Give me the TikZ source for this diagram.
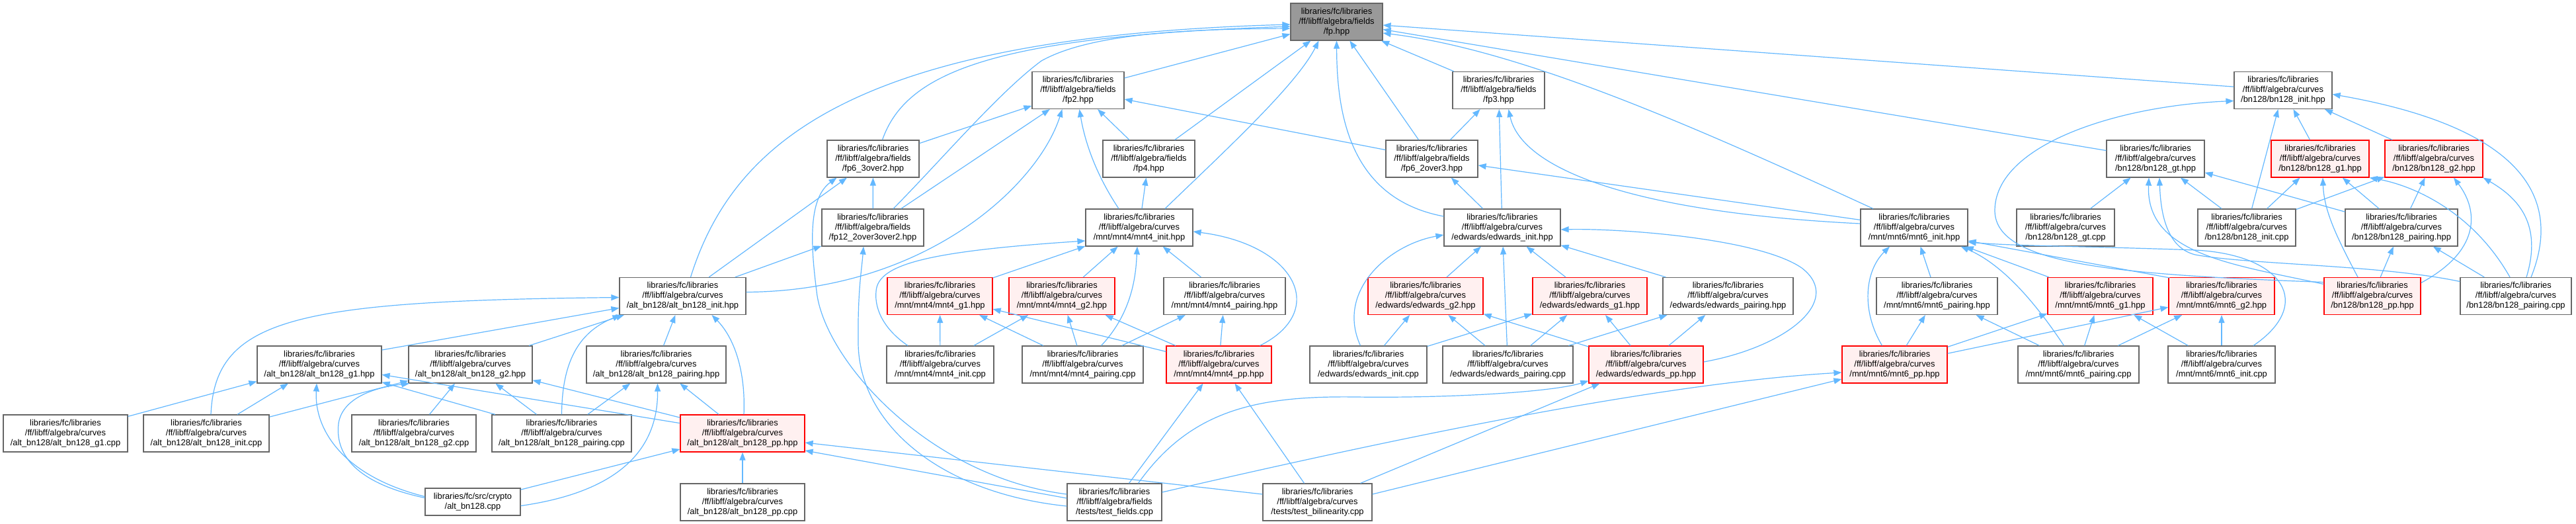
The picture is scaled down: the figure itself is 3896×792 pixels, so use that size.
\documentclass[tikz,border=0pt]{standalone}
\usepackage{fontspec}
\setmainfont{Liberation Sans}
\usetikzlibrary{arrows.meta,calc}
\definecolor{edgec}{HTML}{63B8FF}
\definecolor{nbord}{HTML}{666666}
\definecolor{rootf}{HTML}{999999}
\definecolor{redf}{HTML}{FFF0F0}
\newcommand{\lbF}{libraries/fc/libraries\\/ff/libff/algebra/fields\\}
\newcommand{\lbC}{libraries/fc/libraries\\/ff/libff/algebra/curves\\}
\begin{document}
\begin{tikzpicture}[x=1pt,y=-1pt,
 nbox/.style={draw=nbord,line width=1.2pt,fill=white,inner sep=0pt,minimum height=56pt,align=center,font=\fontsize{12.9pt}{15pt}\selectfont},
 rbox/.style={nbox,draw=red,fill=redf},
 rootbox/.style={nbox,fill=rootf},
 edg/.style={draw=edgec,line width=1.2pt,-{Triangle[length=12pt,width=9pt]}}]
\fill[white] (0,0) rectangle (3896,792);
\useasboundingbox (0,0) rectangle (3896,792);
% row 0
\node[rootbox,minimum width=139pt] (fp) at (2021.5,33) {\lbF/fp.hpp};
% row 1
\node[nbox,minimum width=139pt] (fp2) at (1630.5,136.5) {\lbF/fp2.hpp};
\node[nbox,minimum width=139pt] (fp3) at (2266.5,136.5) {\lbF/fp3.hpp};
\node[nbox,minimum width=148pt] (bninit) at (3453,136.5) {\lbC/bn128/bn128\_init.hpp};
% row 2
\node[nbox,minimum width=139pt] (fp6a) at (1320.5,240) {\lbF/fp6\_3over2.hpp};
\node[nbox,minimum width=139pt] (fp4) at (1737.5,240) {\lbF/fp4.hpp};
\node[nbox,minimum width=139pt] (fp6b) at (2165.5,240) {\lbF/fp6\_2over3.hpp};
\node[nbox,minimum width=148pt] (bngt) at (3260,240) {\lbC/bn128/bn128\_gt.hpp};
\node[rbox,minimum width=148pt] (bng1) at (3509,240) {\lbC/bn128/bn128\_g1.hpp};
\node[rbox,minimum width=148pt] (bng2) at (3681,240) {\lbC/bn128/bn128\_g2.hpp};
% row 3
\node[nbox,minimum width=154pt] (fp12) at (1320,344) {\lbF/fp12\_2over3over2.hpp};
\node[nbox,minimum width=162pt] (m4init) at (1723,344) {\lbC/mnt/mnt4/mnt4\_init.hpp};
\node[nbox,minimum width=176pt] (edinit) at (2272,344) {\lbC/edwards/edwards\_init.hpp};
\node[nbox,minimum width=162pt] (m6init) at (2895,344) {\lbC/mnt/mnt6/mnt6\_init.hpp};
\node[nbox,minimum width=148pt] (bngtcpp) at (3124,344) {\lbC/bn128/bn128\_gt.cpp};
\node[nbox,minimum width=148pt] (bninitcpp) at (3398,344) {\lbC/bn128/bn128\_init.cpp};
\node[nbox,minimum width=170pt] (bnpairh) at (3632,344) {\lbC/bn128/bn128\_pairing.hpp};
% row 4
\node[nbox,minimum width=191pt] (abinit) at (1032.5,447.5) {\lbC/alt\_bn128/alt\_bn128\_init.hpp};
\node[rbox,minimum width=159pt] (m4g1) at (1421.5,447.5) {\lbC/mnt/mnt4/mnt4\_g1.hpp};
\node[rbox,minimum width=160pt] (m4g2) at (1606,447.5) {\lbC/mnt/mnt4/mnt4\_g2.hpp};
\node[nbox,minimum width=184pt] (m4pairh) at (1852,447.5) {\lbC/mnt/mnt4/mnt4\_pairing.hpp};
\node[rbox,minimum width=174pt] (edg2) at (2156,447.5) {\lbC/edwards/edwards\_g2.hpp};
\node[rbox,minimum width=173pt] (edg1) at (2404.5,447.5) {\lbC/edwards/edwards\_g1.hpp};
\node[nbox,minimum width=197pt] (edpairh) at (2613.5,447.5) {\lbC/edwards/edwards\_pairing.hpp};
\node[nbox,minimum width=183pt] (m6pairh) at (2929.5,447.5) {\lbC/mnt/mnt6/mnt6\_pairing.hpp};
\node[rbox,minimum width=159pt] (m6g1) at (3176.5,447.5) {\lbC/mnt/mnt6/mnt6\_g1.hpp};
\node[rbox,minimum width=160pt] (m6g2) at (3360,447.5) {\lbC/mnt/mnt6/mnt6\_g2.hpp};
\node[rbox,minimum width=146pt] (bnpp) at (3588,447.5) {\lbC/bn128/bn128\_pp.hpp};
\node[nbox,minimum width=168pt] (bnpaircpp) at (3805,447.5) {\lbC/bn128/bn128\_pairing.cpp};
% row 5
\node[nbox,minimum width=188pt] (abg1) at (483,551) {\lbC/alt\_bn128/alt\_bn128\_g1.hpp};
\node[nbox,minimum width=187pt] (abg2) at (711.5,551) {\lbC/alt\_bn128/alt\_bn128\_g2.hpp};
\node[nbox,minimum width=211pt] (abpairh) at (992.5,551) {\lbC/alt\_bn128/alt\_bn128\_pairing.hpp};
\node[nbox,minimum width=162pt] (m4initcpp) at (1422,551) {\lbC/mnt/mnt4/mnt4\_init.cpp};
\node[nbox,minimum width=183pt] (m4paircpp) at (1637.5,551) {\lbC/mnt/mnt4/mnt4\_pairing.cpp};
\node[rbox,minimum width=159pt] (m4pp) at (1843.5,551) {\lbC/mnt/mnt4/mnt4\_pp.hpp};
\node[nbox,minimum width=177pt] (edinitcpp) at (2069.5,551) {\lbC/edwards/edwards\_init.cpp};
\node[nbox,minimum width=197pt] (edpaircpp) at (2280.5,551) {\lbC/edwards/edwards\_pairing.cpp};
\node[rbox,minimum width=173pt] (edpp) at (2489.5,551) {\lbC/edwards/edwards\_pp.hpp};
\node[rbox,minimum width=159pt] (m6pp) at (2865.5,551) {\lbC/mnt/mnt6/mnt6\_pp.hpp};
\node[nbox,minimum width=183pt] (m6paircpp) at (3143.5,551) {\lbC/mnt/mnt6/mnt6\_pairing.cpp};
\node[nbox,minimum width=162pt] (m6initcpp) at (3360,551) {\lbC/mnt/mnt6/mnt6\_init.cpp};
% row 6
\node[nbox,minimum width=188pt] (abg1cpp) at (99,655) {\lbC/alt\_bn128/alt\_bn128\_g1.cpp};
\node[nbox,minimum width=190pt] (abinitcpp) at (312,655) {\lbC/alt\_bn128/alt\_bn128\_init.cpp};
\node[nbox,minimum width=188pt] (abg2cpp) at (626,655) {\lbC/alt\_bn128/alt\_bn128\_g2.cpp};
\node[nbox,minimum width=211pt] (abpaircpp) at (849.5,655) {\lbC/alt\_bn128/alt\_bn128\_pairing.cpp};
\node[rbox,minimum width=188pt] (abpp) at (1123,655) {\lbC/alt\_bn128/alt\_bn128\_pp.hpp};
% row 7
\node[nbox,minimum width=188pt] (abppcpp) at (1123,759) {\lbC/alt\_bn128/alt\_bn128\_pp.cpp};
\node[nbox,minimum width=143pt] (testfields) at (1685.5,759) {\lbF/tests/test\_fields.cpp};
\node[nbox,minimum width=165pt] (testbil) at (1992.5,759) {\lbC/tests/test\_bilinearity.cpp};
\node[nbox,minimum width=144pt,minimum height=41pt] (crypto) at (715,758.5) {libraries/fc/src/crypto\\/alt\_bn128.cpp};

% ---- edges into fp.hpp
\draw[edg] (fp2) -- (fp);
\draw[edg] (fp3) -- (fp);
\draw[edg] (bninit) -- (fp);
\draw[edg] (fp4) -- (fp);
\draw[edg] (fp6b) -- (fp);
\draw[edg] (bngt) -- (fp);
\draw[edg] ($(m4init.north)+(39,0)$) .. controls (1845,235) and (1960,130) .. ($(fp.south)+(-27,0)$);
\draw[edg] ($(m6init.north)+(-62,0)$) .. controls (2560,190) and (2300,75) .. ($(fp.east)+(0,17)$);
\draw[edg] ($(abinit.north)+(12,0)$) .. controls (1110,210) and (1300,55) .. ($(fp.west)+(0,4)$);
\draw[edg] ($(fp6a.north)+(14,0)$) .. controls (1370,110) and (1500,55) .. ($(fp.west)+(0,7)$);
\draw[edg] ($(fp12.north)+(31,0)$) .. controls (1420,246) and (1510,140) .. (1575,92) .. controls (1650,50) and (1800,44) .. ($(fp.west)+(0,10)$);
\draw[edg] ($(edinit.west)+(0,-17)$) .. controls (2040,300) and (2022,170) .. (fp.south);
% ---- fp2
\draw[edg] (fp6a) -- (fp2);
\draw[edg] (fp12) -- (fp2);
\draw[edg] (fp4) -- (fp2);
\draw[edg] ($(m4init.north)+(-31,0)$) .. controls (1655,260) and (1640,210) .. ($(fp2.south)+(2,0)$);
\draw[edg] (fp6b) -- (fp2);
\draw[edg] ($(abinit.east)+(0,-6)$) .. controls (1400,440) and (1570,280) .. ($(fp2.south)+(-24,0)$);
% ---- fp3, fp4, fp6a, fp6b, fp12
\draw[edg] (fp6b) -- (fp3);
\draw[edg] (edinit) -- (fp3);
\draw[edg] ($(m6init.west)+(0,-6)$) .. controls (2450,320) and (2300,250) .. ($(fp3.south)+(15,0)$);
\draw[edg] (m4init) -- (fp4);
\draw[edg] (fp12) -- (fp6a);
\draw[edg] (abinit) -- (fp6a);
\draw[edg] ($(testfields.west)+(0,-12)$) .. controls (1400,720) and (1245,540) .. (1235,440) .. controls (1226,370) and (1222,300) .. ($(fp6a.south)+(-55,0)$);
\draw[edg] (edinit) -- (fp6b);
\draw[edg] (m6init) -- (fp6b);
\draw[edg] (abinit) -- (fp12);
\draw[edg] ($(testfields.west)+(0,6)$) .. controls (1420,745) and (1300,640) .. (1298,520) .. controls (1297,440) and (1303,410) .. ($(fp12.south)+(-14,0)$);
% ---- alt_bn128
\draw[edg] ($(abg1.east)+(0,-22)$) -- ($(abinit.west)+(0,18)$);
\draw[edg] (abg2) -- (abinit);
\draw[edg] (abpairh) -- (abinit);
\draw[edg] ($(abinitcpp.north)+(7,0)$) .. controls (325,480) and (450,455) .. ($(abinit.west)+(0,2)$);
\draw[edg] (abpaircpp.north) .. controls (850,540) and (880,500) .. ($(abinit.south west)+(2,0)$);
\draw[edg] ($(abpp.north)+(2,0)$) .. controls (1128,560) and (1110,510) .. ($(abinit.south)+(44,0)$);
\draw[edg] (abg1cpp) -- (abg1);
\draw[edg] (abinitcpp) -- (abg1);
\draw[edg] (abpaircpp) -- (abg1);
\draw[edg] (abpp) -- (abg1);
\draw[edg] ($(crypto.west)+(0,-8)$) .. controls (520,720) and (475,650) .. ($(abg1.south)+(-4,0)$);
\draw[edg] (abg2cpp) -- (abg2);
\draw[edg] (abinitcpp) -- (abg2);
\draw[edg] (abpaircpp) -- (abg2);
\draw[edg] (abpp) -- (abg2);
\draw[edg] ($(crypto.west)+(0,-6)$) .. controls (560,735) and (505,700) .. (512,640) .. controls (518,600) and (570,585) .. ($(abg2.south west)+(2,0)$);
\draw[edg] (abpaircpp) -- (abpairh);
\draw[edg] (abpp) -- (abpairh);
\draw[edg] ($(crypto.east)+(0,6)$) .. controls (960,740) and (995,660) .. ($(abpairh.south)+(2,0)$);
\draw[edg] (abppcpp) -- (abpp);
\draw[edg] (crypto) -- (abpp);
\draw[edg] ($(testfields.west)+(0,-6)$) -- ($(abpp.east)+(0,26)$);
\draw[edg] ($(testbil.west)+(0,-12)$) -- ($(abpp.east)+(0,14)$);
% ---- mnt4
\draw[edg] (m4g1) -- (m4init);
\draw[edg] (m4g2) -- (m4init);
\draw[edg] (m4pairh) -- (m4init);
\draw[edg] ($(m4initcpp.north)+(-49,0)$) .. controls (1340,500) and (1322,470) .. (1325,440) .. controls (1328,400) and (1400,380) .. ($(m4init.west)+(0,20)$);
\draw[edg] ($(m4paircpp.north)+(28,0)$) .. controls (1715,470) and (1718,410) .. ($(m4init.south)+(-3,0)$);
\draw[edg] ($(m4pp.north)+(62,0)$) .. controls (2010,470) and (1960,370) .. ($(m4init.east)+(0,6)$);
\draw[edg] (m4initcpp) -- (m4g1);
\draw[edg] (m4initcpp) -- (m4g2);
\draw[edg] (m4paircpp) -- (m4g1);
\draw[edg] (m4paircpp) -- (m4g2);
\draw[edg] (m4paircpp) -- (m4pairh);
\draw[edg] (m4pp) -- (m4g1);
\draw[edg] (m4pp) -- (m4g2);
\draw[edg] (m4pp) -- (m4pairh);
\draw[edg] ($(testfields.north)+(22,0)$) -- ($(m4pp.south)+(-24,0)$);
\draw[edg] ($(testbil.north)+(-20,0)$) -- ($(m4pp.south)+(24,0)$);
% ---- edwards
\draw[edg] (edg2) -- (edinit);
\draw[edg] (edg1) -- (edinit);
\draw[edg] (edpairh) -- (edinit);
\draw[edg] (edpaircpp) -- (edinit);
\draw[edg] ($(edinitcpp.north)+(-12,0)$) .. controls (2020,440) and (2100,370) .. ($(edinit.west)+(0,11)$);
\draw[edg] ($(edpp.east)+(0,-4)$) .. controls (2700,525) and (2790,455) .. (2725,405) .. controls (2660,360) and (2450,345) .. ($(edinit.east)+(0,3)$);
\draw[edg] (edinitcpp) -- (edg2);
\draw[edg] (edinitcpp) -- (edg1);
\draw[edg] (edpaircpp) -- (edg2);
\draw[edg] (edpaircpp) -- (edg1);
\draw[edg] (edpaircpp) -- (edpairh);
\draw[edg] (edpp) -- (edg2);
\draw[edg] (edpp) -- (edg1);
\draw[edg] (edpp) -- (edpairh);
\draw[edg] ($(testfields.north)+(36,0)$) .. controls (1800,620) and (1900,598) .. (2050,600) .. controls (2200,602) and (2350,592) .. ($(edpp.south west)+(0,-4)$);
\draw[edg] ($(testbil.north)+(65,0)$) -- ($(edpp.south)+(-70,0)$);
% ---- mnt6
\draw[edg] (m6pairh) -- (m6init);
\draw[edg] (m6g1) -- (m6init);
\draw[edg] ($(m6g2.north west)+(2,1)$) -- ($(m6init.east)+(0,20)$);
\draw[edg] ($(m6pp.north)+(-19,0)$) .. controls (2815,470) and (2820,410) .. ($(m6init.south)+(-37,0)$);
\draw[edg] ($(m6paircpp.north)+(-22,0)$) .. controls (3080,460) and (3030,400) .. ($(m6init.south east)+(-11,0)$);
\draw[edg] ($(m6initcpp.north)+(48,0)$) .. controls (3500,460) and (3455,385) .. (3320,378) .. controls (3150,372) and (3050,372) .. ($(m6init.east)+(0,22)$);
\draw[edg] (m6pp) -- (m6pairh);
\draw[edg] (m6pp) -- (m6g1);
\draw[edg] (m6pp) -- (m6g2);
\draw[edg] (m6paircpp) -- (m6pairh);
\draw[edg] (m6paircpp) -- (m6g1);
\draw[edg] (m6paircpp) -- (m6g2);
\draw[edg] (m6initcpp) -- (m6g1);
\draw[edg] (m6initcpp) -- (m6g2);
\draw[edg] ($(testfields.east)+(0,-15)$) .. controls (2100,665) and (2500,580) .. ($(m6pp.west)+(0,12)$);
\draw[edg] ($(testbil.east)+(0,-12)$) -- ($(m6pp.west)+(0,22)$);
% ---- bn128
\draw[edg] (bng1) -- (bninit);
\draw[edg] (bng2) -- (bninit);
\draw[edg] (bninitcpp) -- (bninit);
\draw[edg] ($(bnpp.west)+(0,-21)$) .. controls (3200,415) and (3020,400) .. (3017,320) .. controls (3015,220) and (3200,160) .. ($(bninit.west)+(0,16)$);
\draw[edg] ($(bnpaircpp.north)+(23,0)$) .. controls (3880,290) and (3800,190) .. ($(bninit.east)+(0,6)$);
\draw[edg] (bngtcpp) -- (bngt);
\draw[edg] (bninitcpp) -- (bngt);
\draw[edg] (bnpairh) -- (bngt);
\draw[edg] ($(bnpp.west)+(0,-18)$) .. controls (3380,400) and (3245,385) .. ($(bngt.south)+(-10,0)$);
\draw[edg] ($(bnpaircpp.west)+(0,-22)$) .. controls (3600,400) and (3400,400) .. (3320,385) .. controls (3280,375) and (3268,330) .. ($(bngt.south)+(6,0)$);
\draw[edg] (bninitcpp) -- (bng1);
\draw[edg] (bnpairh) -- (bng1);
\draw[edg] ($(bnpaircpp.north)+(-9,0)$) .. controls (3740,320) and (3650,280) .. (bng1.south east);
\draw[edg] ($(bnpp.north)+(-22,0)$) .. controls (3535,360) and (3515,320) .. ($(bng1.south)+(4,0)$);
\draw[edg] (bninitcpp) -- (bng2);
\draw[edg] (bnpairh) -- (bng2);
\draw[edg] ($(bnpaircpp.north)+(16,0)$) .. controls (3845,340) and (3810,300) .. (bng2.south east);
\draw[edg] ($(bnpp.east)+(0,-20)$) .. controls (3750,380) and (3750,320) .. ($(bng2.south)+(30,0)$);
\draw[edg] (bnpp) -- (bnpairh);
\draw[edg] (bnpaircpp) -- (bnpairh);
\end{tikzpicture}
\end{document}
